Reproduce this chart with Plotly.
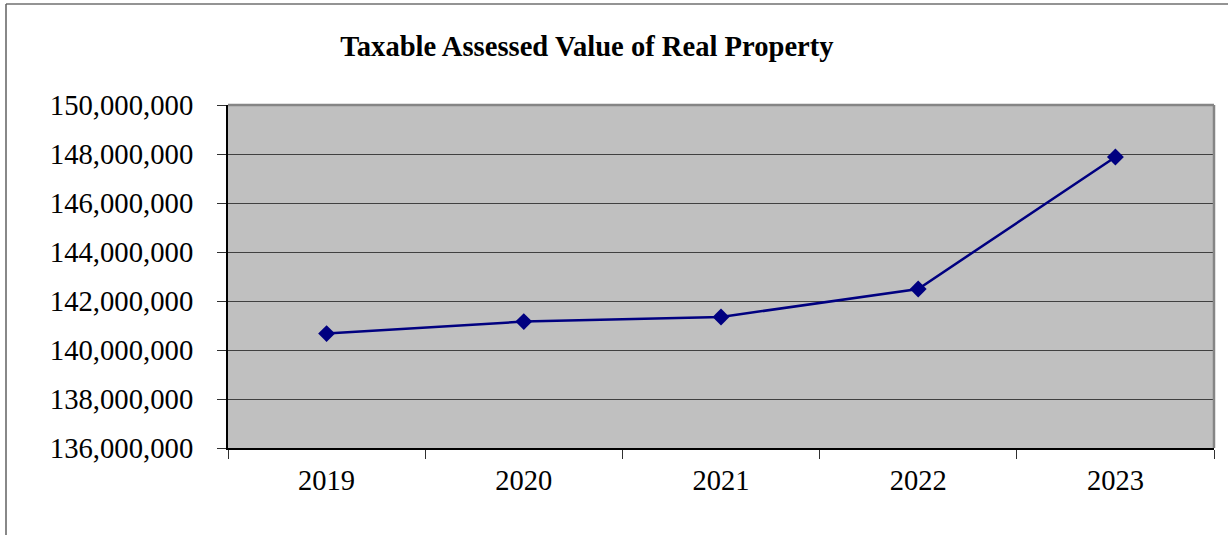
import plotly.graph_objects as go

# Taxable assessed value of real property by year
years = ["2019", "2020", "2021", "2022", "2023"]
assessed_values = [140670000, 141160000, 141350000, 142490000, 147880000]

y_tick_values = [136000000, 138000000, 140000000, 142000000, 144000000,
                 146000000, 148000000, 150000000]
y_tick_labels = ["136,000,000", "138,000,000", "140,000,000", "142,000,000",
                 "144,000,000", "146,000,000", "148,000,000", "150,000,000"]

serif = "Liberation Serif, Times New Roman, serif"

fig = go.Figure()
fig.add_trace(go.Scatter(
    x=years,
    y=assessed_values,
    mode="lines+markers",
    line=dict(color="#000080", width=2.5),
    marker=dict(symbol="diamond", size=13, color="#000080"),
    showlegend=False,
    hoverinfo="x+y",
))

W, H = 1228, 535
L, R, T, B = 228, 14, 105, 87
pw, ph = W - L - R, H - T - B


def px_x(v):
    return (v - L) / pw


def px_y(v):
    return (H - B - v) / ph


shapes = [
    # chart frame: top and left edges
    dict(type="line", xref="paper", yref="paper",
         x0=px_x(6), x1=px_x(1240), y0=px_y(4), y1=px_y(4),
         line=dict(color="#707070", width=1.5)),
    dict(type="line", xref="paper", yref="paper",
         x0=px_x(6), x1=px_x(6), y0=px_y(4), y1=px_y(560),
         line=dict(color="#606060", width=1.5)),
    # plot area: shaded top and right edges
    dict(type="line", xref="paper", yref="paper",
         x0=0, x1=1, y0=1, y1=1, line=dict(color="#858585", width=2.5)),
    dict(type="line", xref="paper", yref="paper",
         x0=1, x1=1, y0=0, y1=1, line=dict(color="#858585", width=2.5)),
]

fig.update_layout(
    width=W, height=H,
    margin=dict(l=L, r=R, t=T, b=B, autoexpand=False),
    paper_bgcolor="white",
    plot_bgcolor="#C0C0C0",
    title=dict(
        text="<b>Taxable Assessed Value of Real Property</b>",
        x=587 / W, xanchor="center",
        y=1 - 46 / H, yanchor="middle",
        font=dict(family=serif, size=28.6, color="black"),
    ),
    xaxis=dict(
        type="category",
        range=[-0.5, 4.5],
        tickson="boundaries",
        ticks="outside", ticklen=9, tickwidth=1.2, tickcolor="#303030",
        showgrid=False, zeroline=False,
        showline=True, linecolor="black", linewidth=2,
        tickfont=dict(family=serif, size=28.5, color="black"),
        ticklabelstandoff=6,
    ),
    yaxis=dict(
        range=[136000000, 150000000],
        tickvals=y_tick_values, ticktext=y_tick_labels,
        ticks="outside", ticklen=9, tickwidth=1.2, tickcolor="#303030",
        showgrid=True, gridcolor="#404040", gridwidth=1,
        zeroline=False,
        showline=True, linecolor="black", linewidth=2,
        tickfont=dict(family=serif, size=28.7, color="black"),
        ticklabelstandoff=18,
    ),
    shapes=shapes,
)

fig.write_html("out.html")
